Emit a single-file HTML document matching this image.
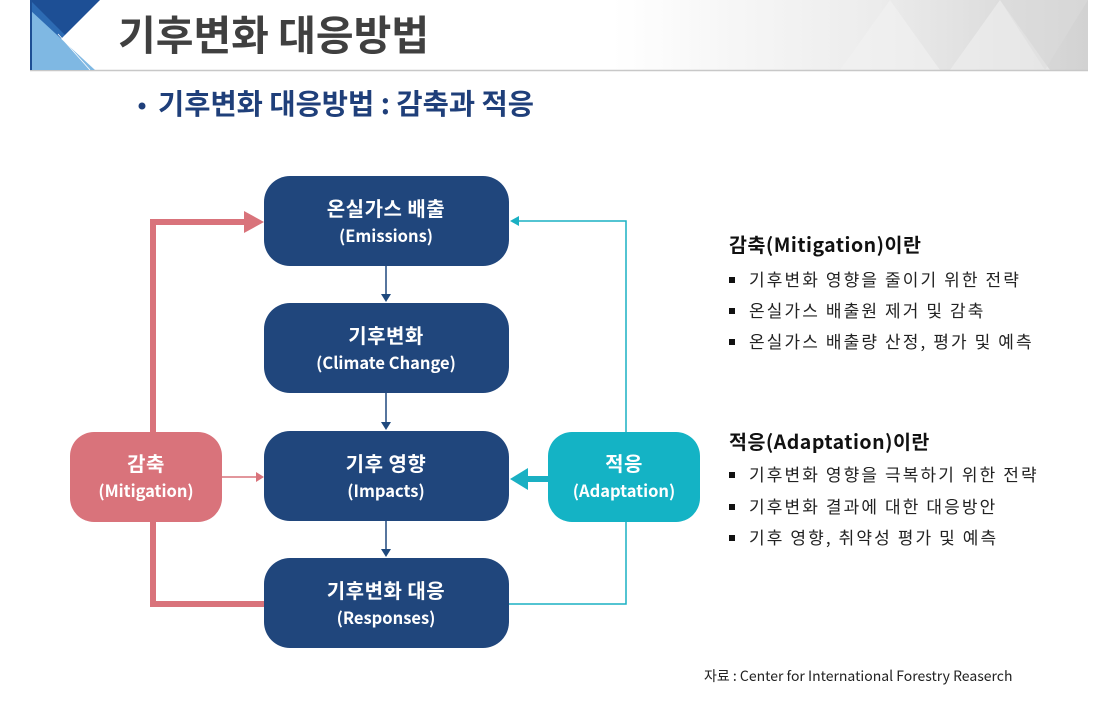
<!DOCTYPE html>
<html><head><meta charset="utf-8"><style>
body{margin:0;width:1110px;height:713px;background:#fff;overflow:hidden;position:relative;font-family:"Liberation Sans","Noto Sans CJK KR",sans-serif}
</style></head><body>
<svg width="1110" height="713" style="position:absolute;left:0;top:0" font-family="'Noto Sans CJK KR','Liberation Sans',sans-serif">
<defs>
<linearGradient id="bg" x1="0" x2="1"><stop offset="0" stop-color="#fff"/><stop offset="0.55" stop-color="#fff"/><stop offset="0.8" stop-color="#ececec"/><stop offset="1" stop-color="#d2d2d2"/></linearGradient>
</defs>
<rect x="30" y="0" width="1058" height="70" fill="url(#bg)"/>
<polygon points="840,70 890,0 940,70" fill="#f2f2f2" opacity="0.6"/>
<polygon points="950,70 1000,0 1050,70" fill="#f0f0f0" opacity="0.6"/>
<polygon points="1000,0 1045,70 1088,0" fill="#dcdcdc" opacity="0.5"/>
<line x1="30" y1="70.5" x2="1088" y2="70.5" stroke="#c8c8c8" stroke-width="1.5"/>
<polygon points="30,0 100,0 65,35 30,35" fill="#1d4f95"/>
<polygon points="30,0 65,35 30,70" fill="#2d6bb3"/>
<polygon points="30,10 95,70 30,70" fill="#7fb8e3"/>
<line x1="58" y1="34" x2="90" y2="70" stroke="#fff" stroke-width="0.8"/>
<rect x="30" y="0" width="2" height="70" fill="#1d4f95"/>
<text x="118" y="50" font-size="41" font-weight="700" fill="#404040">기후변화 대응방법</text>
<circle cx="142" cy="106" r="3.5" fill="#1f3f7a"/>
<text x="158" y="114" font-size="28.5" font-weight="700" fill="#1f3f7a">기후변화 대응방법 : 감축과 적응</text>

<g fill="none">
<polyline points="153,432 153,222 248,222" stroke="#d9737b" stroke-width="6"/>
<polyline points="153,522 153,604 264,604" stroke="#d9737b" stroke-width="6"/>
<line x1="222" y1="477" x2="258" y2="477" stroke="#d9737b" stroke-width="1.5"/>
<polyline points="626,432 626,221 518,221" stroke="#1ab0c3" stroke-width="1.5"/>
<polyline points="626,522 626,604 509,604" stroke="#1ab0c3" stroke-width="1.5"/>
<line x1="548" y1="479" x2="526" y2="479" stroke="#1ab0c3" stroke-width="6"/>
<line x1="386" y1="266" x2="386" y2="295" stroke="#1f497d" stroke-width="1.5"/>
<line x1="386" y1="393" x2="386" y2="423" stroke="#1f497d" stroke-width="1.5"/>
<line x1="386" y1="521" x2="386" y2="550" stroke="#1f497d" stroke-width="1.5"/>
</g>
<polygon points="244,211 264,222 244,233" fill="#d9737b"/>
<polygon points="256,472 264,477 256,482" fill="#d9737b"/>
<polygon points="519,216 510,221 519,226" fill="#1ab0c3"/>
<polygon points="528,468 510,479 528,490" fill="#1ab0c3"/>
<polygon points="381,294 386,302 391,294" fill="#1f497d"/>
<polygon points="381,422 386,430 391,422" fill="#1f497d"/>
<polygon points="381,549 386,557 391,549" fill="#1f497d"/>

<g fill="#20467c">
<rect x="264" y="176" width="245" height="90" rx="26"/>
<rect x="264" y="303" width="245" height="90" rx="26"/>
<rect x="264" y="431" width="245" height="90" rx="26"/>
<rect x="264" y="558" width="245" height="90" rx="26"/>
</g>
<rect x="70" y="432" width="152" height="90" rx="24" fill="#d9737b"/>
<rect x="548" y="432" width="152" height="90" rx="24" fill="#14b3c5"/>
<g fill="#fff" font-weight="700" text-anchor="middle" font-size="20" letter-spacing="0.5">
<text x="386" y="216">온실가스 배출</text><text x="386" y="242" font-size="16.5" letter-spacing="0">(Emissions)</text>
<text x="386" y="343">기후변화</text><text x="386" y="369" font-size="16.5" letter-spacing="0">(Climate Change)</text>
<text x="386" y="471">기후 영향</text><text x="386" y="497" font-size="16.5" letter-spacing="0">(Impacts)</text>
<text x="386" y="598">기후변화 대응</text><text x="386" y="624" font-size="16.5" letter-spacing="0">(Responses)</text>
<text x="146" y="471">감축</text><text x="146" y="497" font-size="16.5" letter-spacing="0">(Mitigation)</text>
<text x="624" y="471">적응</text><text x="624" y="497" font-size="16.5" letter-spacing="0">(Adaptation)</text>
</g>

<g fill="#111">
<text x="729" y="252" font-size="19.5" font-weight="700" letter-spacing="0.5">감축(Mitigation)이란</text>
<text x="729" y="449" font-size="19.5" font-weight="700" letter-spacing="0.5">적응(Adaptation)이란</text>
<g font-size="17" fill="#222" letter-spacing="2.1">
<text x="749" y="286">기후변화 영향을 줄이기 위한 전략</text>
<text x="749" y="317">온실가스 배출원 제거 및 감축</text>
<text x="749" y="348">온실가스 배출량 산정, 평가 및 예측</text>
<text x="749" y="481">기후변화 영향을 극복하기 위한 전략</text>
<text x="749" y="513">기후변화 결과에 대한 대응방안</text>
<text x="749" y="544">기후 영향, 취약성 평가 및 예측</text>
</g>
<rect x="729" y="277" width="6" height="6"/><rect x="729" y="308" width="6" height="6"/><rect x="729" y="339" width="6" height="6"/>
<rect x="729" y="472" width="6" height="6"/><rect x="729" y="504" width="6" height="6"/><rect x="729" y="535" width="6" height="6"/>
</g>
<text x="704" y="681" font-size="14" fill="#222">자료 : Center for International Forestry Reaserch</text>
</svg>
</body></html>
